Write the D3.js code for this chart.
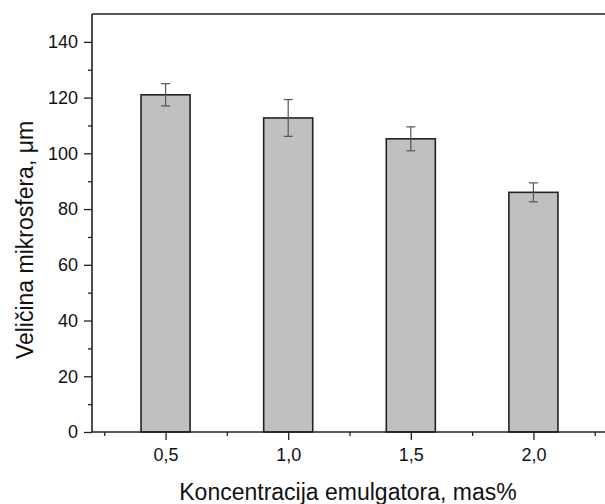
<!DOCTYPE html>
<html>
<head>
<meta charset="utf-8">
<script src="https://cdn.jsdelivr.net/npm/d3@7"></script>
<style>
  body { margin: 0; background: #fff; }
  text { font-family: "Liberation Sans", Arial, sans-serif; fill: #111; }
</style>
</head>
<body>
<svg width="605" height="504"></svg>
<script>
// data
const concentrations = [0.5, 1.0, 1.5, 2.0];
const sizes = [121, 112.7, 105.2, 86];
const errors = [4, 6.6, 4.3, 3.4];
const yTicks = [0, 20, 40, 60, 80, 100, 120, 140];
const yMinor = [10, 30, 50, 70, 90, 110, 130];
const xMinor = [0.25, 0.75, 1.25, 1.75, 2.25];

const svg = d3.select('svg');
const m = { left: 92, top: 14, right: 607, bottom: 432 };

const x = d3.scaleLinear().domain([0.2, 2.3]).range([m.left, m.right]);
const y = d3.scaleLinear().domain([0, 150]).range([m.bottom, m.top]);
const barW = x(0.6) - x(0.4);

// bars
svg.selectAll('rect.bar')
  .data(concentrations)
  .join('rect')
  .attr('class', 'bar')
  .attr('x', (d) => x(d) - barW / 2)
  .attr('y', (d, i) => y(sizes[i]))
  .attr('width', barW)
  .attr('height', (d, i) => y(0) - y(sizes[i]))
  .attr('fill', '#c0c0c0')
  .attr('stroke', '#222')
  .attr('stroke-width', 1.6);

// error bars
const err = svg.append('g').attr('stroke', '#555').attr('stroke-width', 1.2);
concentrations.forEach((c, i) => {
  const hi = y(sizes[i] + errors[i]);
  const lo = y(sizes[i] - errors[i]);
  err.append('line').attr('x1', x(c)).attr('x2', x(c)).attr('y1', hi).attr('y2', lo);
  err.append('line').attr('x1', x(c) - 4.5).attr('x2', x(c) + 4.5).attr('y1', hi).attr('y2', hi);
  err.append('line').attr('x1', x(c) - 4.5).attr('x2', x(c) + 4.5).attr('y1', lo).attr('y2', lo);
});

// axes
const fmt = (d) => d3.format('.1f')(d).replace('.', ',');

const yAxis = svg.append('g')
  .attr('transform', `translate(${m.left},0)`)
  .call(d3.axisLeft(y).tickValues(yTicks).tickSize(8).tickPadding(6));
svg.append('g')
  .attr('transform', `translate(${m.left},0)`)
  .call(d3.axisLeft(y).tickValues(yMinor).tickSize(4).tickFormat(''))
  .select('.domain').remove();

const xAxis = svg.append('g')
  .attr('transform', `translate(0,${m.bottom})`)
  .call(d3.axisBottom(x).tickValues(concentrations).tickSize(8).tickPadding(8).tickFormat(fmt));
svg.append('g')
  .attr('transform', `translate(0,${m.bottom})`)
  .call(d3.axisBottom(x).tickValues(xMinor).tickSize(4).tickFormat(''))
  .select('.domain').remove();

svg.selectAll('.domain').attr('stroke', '#222').attr('stroke-width', 1.6);
svg.selectAll('.tick line').attr('stroke', '#222').attr('stroke-width', 1.3);
svg.selectAll('.tick text').style('font-size', '18px').attr('fill', '#111');
yAxis.select('.domain').attr('d', `M0,${m.bottom}V${m.top}`);
xAxis.select('.domain').attr('d', `M${m.left},0H${m.right}`);

// top border
svg.append('line')
  .attr('x1', m.left).attr('x2', m.right)
  .attr('y1', m.top).attr('y2', m.top)
  .attr('stroke', '#222').attr('stroke-width', 1.6);

// axis titles
svg.append('text')
  .attr('x', 348)
  .attr('y', 500)
  .attr('text-anchor', 'middle')
  .style('font-size', '23px')
  .text('Koncentracija emulgatora, mas%');

svg.append('text')
  .attr('transform', 'translate(33,240) rotate(-90)')
  .attr('text-anchor', 'middle')
  .style('font-size', '23px')
  .text('Veličina mikrosfera, μm');
</script>
</body>
</html>
